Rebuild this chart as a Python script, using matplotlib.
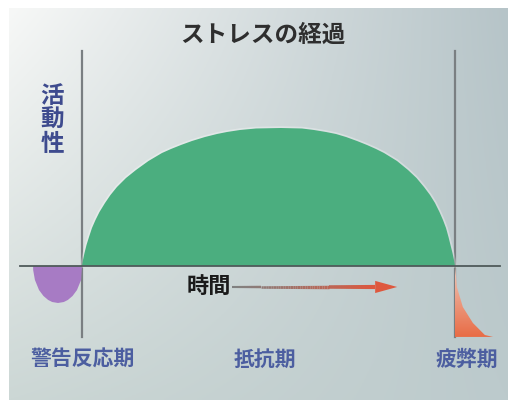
import matplotlib.pyplot as plt
import numpy as np
from matplotlib.collections import LineCollection
from matplotlib.patches import Polygon

plt.rcParams['font.family'] = ['Noto Sans CJK JP', 'DejaVu Sans']

# resistance phase (green) -- time vs activity
resist_t = [0, 0.27, 0.67, 1.21, 1.88, 2.68, 3.62, 4.69, 6.17, 7.64, 9.38,
            11.80, 14.48, 17.83, 21.45, 23.86, 26.54, 29.49, 32.98, 36.19,
            38.87, 42.36, 46.65, 53.35, 58.98, 62.20, 65.42, 68.10, 70.78,
            73.73, 76.41, 78.82, 80.97, 84.45, 87.40, 89.68, 91.69, 93.30,
            94.64, 95.84, 96.78, 97.59, 98.26, 98.79, 99.33, 99.73, 100]
resist_a = [0, 4.35, 9.42, 15.22, 21.01, 27.54, 33.33, 39.13, 45.65, 51.45,
            57.25, 63.77, 69.57, 76.09, 81.88, 84.78, 87.68, 90.58, 93.48,
            95.65, 97.10, 98.55, 99.64, 100, 99.64, 98.55, 97.10, 95.65, 93.48,
            90.58, 87.68, 84.78, 81.88, 76.09, 69.57, 63.77, 57.25, 51.45,
            45.65, 39.13, 33.33, 27.54, 21.01, 15.22, 9.42, 4.35, 0]

# alarm reaction (purple dip)
alarm_t = [-13.1, -13.09, -12.62, -11.52, -10.34, -9.08, -7.98, -6.43,
           -4.88, -3.78, -2.52, -1.34, -0.24, 0]
alarm_a = [0, -2.9, -10.1, -17.4, -21.7, -24.6, -26.1, -26.8,
           -26.1, -24.6, -21.7, -17.4, -10.1, 0]

# exhaustion (orange)
exhaust_t = [100, 100.3, 100.5, 102.1, 104.8, 108.0, 110.2]
exhaust_a = [0, -8.0, -15.2, -29.7, -41.3, -50.0, -51.4]

phase_names = ['警告反応期', '抵抗期', '疲弊期']
phase_pos = [0.3, 49.1, 103.2]
phase_bounds = [0, 100]

title = 'ストレスの経過'
ylabel = '活\n動\n性'
xlabel = '時間'
arrow_from, arrow_to = 40.2, 84.5

fig = plt.figure(figsize=(5.08, 4.0), dpi=100)
fig.patch.set_facecolor('white')
ax = fig.add_axes([0, 0, 1, 1])
ax.set_xlim(-21.98, 114.21)
ax.set_ylim(-97.1, 192.75)
ax.axis('off')

# background gradient
nx, ny = 200, 160
u = np.linspace(0, 1, nx)[None, :, None]
v = np.linspace(0, 1, ny)[:, None, None]
tl = np.array([247, 248, 247]) / 255
tr = np.array([182, 196, 200]) / 255
bl = np.array([204, 215, 213]) / 255
br = np.array([188, 202, 204]) / 255
bg = (1 - v) * ((1 - u) * tl + u * tr) + v * ((1 - u) * bl + u * br)
ax.imshow(bg, extent=(-19.57, 114.21, -97.1, 186.23), origin='upper',
          aspect='auto', zorder=0)

# phase boundaries
for b in phase_bounds:
    ax.plot([b, b], [-51.4, 155.8], color='#7a7f82', lw=1.6, zorder=1)

# green resistance hump
ax.plot(resist_t, resist_a, color='white', lw=2.5, alpha=0.3, zorder=2)
ax.fill(resist_t, resist_a, color='#4bae7f', lw=0, zorder=3)

# purple alarm dip
ax.fill(alarm_t, alarm_a, color='#a77bc4', lw=0, zorder=3)

# orange exhaustion with gradient
ex_poly = Polygon(list(zip(exhaust_t + [100], exhaust_a + [exhaust_a[-1]])),
                  closed=True, facecolor='none', edgecolor='none')
ax.add_patch(ex_poly)
grad = np.linspace(0, 1, 100)[:, None]
c0 = np.array([240, 200, 185]) / 255
c1 = np.array([232, 108, 70]) / 255
ex_img = (1 - grad[..., None]) * c0 + grad[..., None] * c1
im = ax.imshow(ex_img, extent=(100, max(exhaust_t), min(exhaust_a), 0),
               origin='upper', aspect='auto', zorder=3)
im.set_clip_path(ex_poly)

# baseline
ax.plot([-16.6, 112.1], [0, 0], color='#4f5a5a', lw=1.3, zorder=4)

# time arrow with gradient shaft
arrow_y = -15.2
head_len = 5.9
xs = np.linspace(arrow_from, arrow_to - head_len, 60)
segs = [[(xs[i], arrow_y), (xs[i + 1], arrow_y)] for i in range(len(xs) - 1)]
f = np.linspace(0, 1, len(segs))[:, None]
cols = (1 - f) * np.array([115, 115, 115, 0.85 * 255]) / 255 + f * np.array([222, 88, 62, 255]) / 255
lc = LineCollection(segs, colors=cols, linewidths=np.linspace(1.5, 3.0, len(segs)),
                    zorder=4)
ax.add_collection(lc)
ax.add_patch(Polygon([(arrow_to - head_len, arrow_y + 4.4), (arrow_to, arrow_y),
                      (arrow_to - head_len, arrow_y - 4.4)],
                     closed=True, color='#de583e', lw=0, zorder=4))
ax.text(arrow_from - 0.2, arrow_y, xlabel, ha='right', va='center',
        fontsize=16, fontweight='bold', color='#1a1a1a', zorder=5)

# texts
ax.text(48.5, 167.4, title, ha='center', va='center', fontsize=17,
        fontweight='bold', color='#2e2e2e')
ax.text(-8.0, 105.8, ylabel, ha='center', va='center', fontsize=17,
        fontweight='bold', color='#3e4b8e', linespacing=1.0)
for name, pos in zip(phase_names, phase_pos):
    ax.text(pos, -67.4, name, ha='center', va='center', fontsize=15,
            fontweight='bold', color='#4c5ea0')

fig.savefig('out.png', dpi=100)
